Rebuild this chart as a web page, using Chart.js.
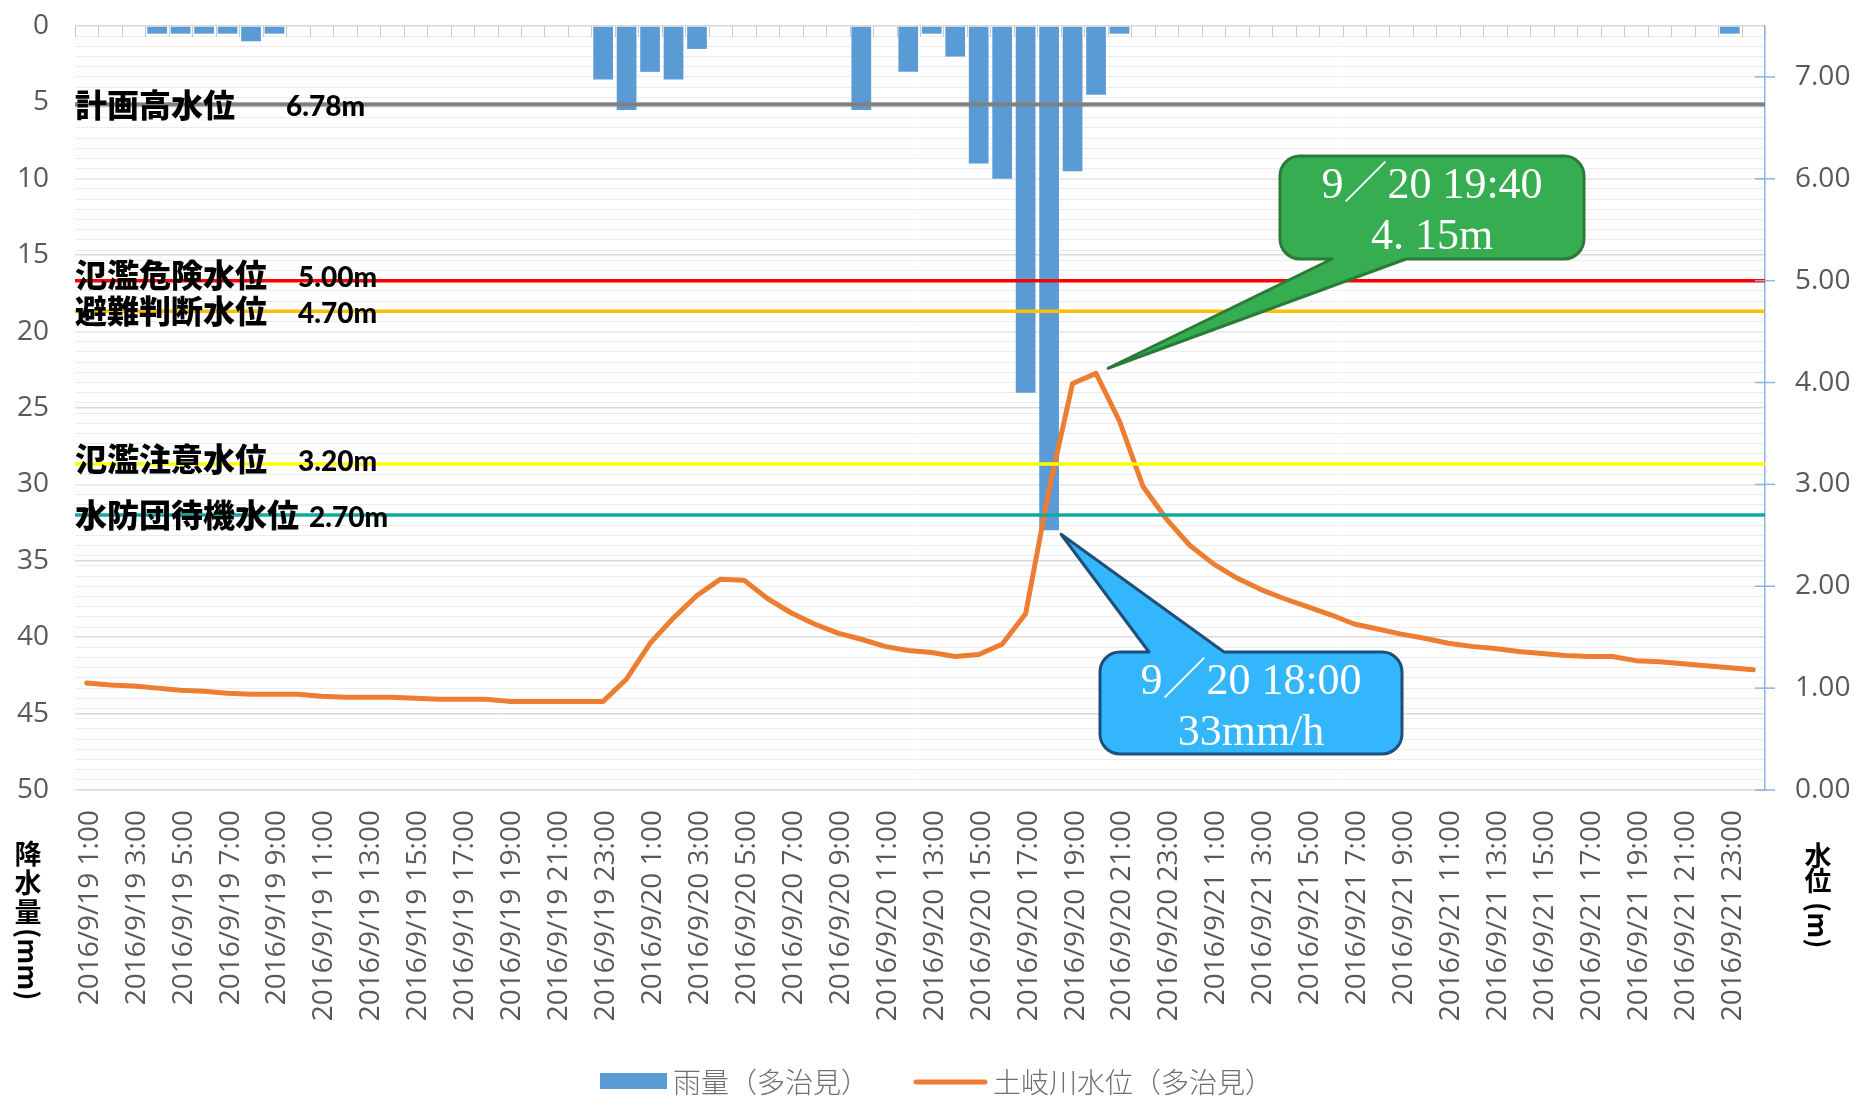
<!DOCTYPE html>
<html><head><meta charset="utf-8">
<script src="https://cdn.jsdelivr.net/npm/chart.js@4.4.1/dist/chart.umd.min.js"></script>
<style>html,body{margin:0;padding:0;background:#fff;}#wrap{width:1855px;height:1102px;}</style>
</head><body><div id="wrap"><canvas id="c" width="1855" height="1102"></canvas></div>
<script>
const categories = [
 '2016/9/19 1:00','2016/9/19 2:00','2016/9/19 3:00','2016/9/19 4:00','2016/9/19 5:00','2016/9/19 6:00',
 '2016/9/19 7:00','2016/9/19 8:00','2016/9/19 9:00','2016/9/19 10:00','2016/9/19 11:00','2016/9/19 12:00',
 '2016/9/19 13:00','2016/9/19 14:00','2016/9/19 15:00','2016/9/19 16:00','2016/9/19 17:00','2016/9/19 18:00',
 '2016/9/19 19:00','2016/9/19 20:00','2016/9/19 21:00','2016/9/19 22:00','2016/9/19 23:00','2016/9/20 0:00',
 '2016/9/20 1:00','2016/9/20 2:00','2016/9/20 3:00','2016/9/20 4:00','2016/9/20 5:00','2016/9/20 6:00',
 '2016/9/20 7:00','2016/9/20 8:00','2016/9/20 9:00','2016/9/20 10:00','2016/9/20 11:00','2016/9/20 12:00',
 '2016/9/20 13:00','2016/9/20 14:00','2016/9/20 15:00','2016/9/20 16:00','2016/9/20 17:00','2016/9/20 18:00',
 '2016/9/20 19:00','2016/9/20 20:00','2016/9/20 21:00','2016/9/20 22:00','2016/9/20 23:00','2016/9/21 0:00',
 '2016/9/21 1:00','2016/9/21 2:00','2016/9/21 3:00','2016/9/21 4:00','2016/9/21 5:00','2016/9/21 6:00',
 '2016/9/21 7:00','2016/9/21 8:00','2016/9/21 9:00','2016/9/21 10:00','2016/9/21 11:00','2016/9/21 12:00',
 '2016/9/21 13:00','2016/9/21 14:00','2016/9/21 15:00','2016/9/21 16:00','2016/9/21 17:00','2016/9/21 18:00',
 '2016/9/21 19:00','2016/9/21 20:00','2016/9/21 21:00','2016/9/21 22:00','2016/9/21 23:00','2016/9/22 0:00'
];
const rainfall = [
 0,0,0,0.5,0.5,0.5,0.5,1,0.5,0,0,0,
 0,0,0,0,0,0,0,0,0,0,3.5,5.5,
 3,3.5,1.5,0,0,0,0,0,0,5.5,0,3,
 0.5,2,9,10,24,33,9.5,4.5,0.5,0,0,0,
 0,0,0,0,0,0,0,0,0,0,0,0,
 0,0,0,0,0,0,0,0,0,0,0.5,0
];
const waterLevel = [
 1.05,1.03,1.02,1.00,0.98,0.97,0.95,0.94,0.94,0.94,0.92,0.91,
 0.91,0.91,0.90,0.89,0.89,0.89,0.87,0.87,0.87,0.87,0.87,1.09,
 1.44,1.69,1.91,2.07,2.06,1.88,1.74,1.63,1.54,1.48,1.41,1.37,
 1.35,1.31,1.33,1.43,1.73,2.95,3.99,4.09,3.62,2.98,2.66,2.40,
 2.22,2.08,1.97,1.88,1.80,1.72,1.63,1.58,1.53,1.49,1.44,1.41,
 1.39,1.36,1.34,1.32,1.31,1.31,1.27,1.26,1.24,1.22,1.20,1.18
];
const seriesNames = ['雨量（多治見）', '土岐川水位（多治見）'];
const refLevels = [6.73, 5.00, 4.70, 3.20, 2.70];
const refNames = ['計画高水位', '氾濫危険水位', '避難判断水位', '氾濫注意水位', '水防団待機水位'];
const refValueTexts = ['6.78m', '5.00m', '4.70m', '3.20m', '2.70m'];
const refColors = ['#808080', '#ff0000', '#ffc000', '#ffff00', '#14a89e'];
const leftTitleChars = ['降', '水', '量'];
const leftTitleUnit = '(mm)';
const rightTitleChars = ['水', '位'];
const rightTitleUnit = '(m)';
const callouts = [
  {lines: ['9／20 19:40', '4. 15m'], tipIndex: 43, tipValue: 4.15, axis: 'y1'},
  {lines: ['9／20 18:00', '33mm/h'], tipIndex: 41, tipValue: 33, axis: 'y'}
];

const GRAY = '#595959';

const decorPlugin = {
  id: 'decor',
  beforeDatasetsDraw(chart) {
    const {ctx, chartArea: a, scales: {x}} = chart;
    ctx.save();
    ctx.strokeStyle = '#c8c8c8';
    ctx.lineWidth = 1;
    const half = (x.getPixelForValue(1) - x.getPixelForValue(0)) / 2;
    for (let i = 0; i <= categories.length; i++) {
      const px = Math.round(x.getPixelForValue(i) - half) + 0.5;
      ctx.beginPath(); ctx.moveTo(px, a.top); ctx.lineTo(px, a.top + 11); ctx.stroke();
    }
    ctx.restore();
  },
  afterDatasetsDraw(chart) {
    const {ctx, chartArea: a, scales} = chart;
    const y1 = scales.y1;
    ctx.save();
    const widths = [4, 3.5, 3.5, 3.5, 3.5];
    refLevels.forEach((v, k) => {
      const py = y1.getPixelForValue(v);
      ctx.strokeStyle = refColors[k]; ctx.lineWidth = widths[k];
      ctx.beginPath(); ctx.moveTo(a.left, py); ctx.lineTo(a.right, py); ctx.stroke();
    });
    const dy = [0, -6, 0, -5, 0];
    const vx = [211, 223, 223, 223, 234];
    refLevels.forEach((v, k) => {
      const py = y1.getPixelForValue(v) + dy[k];
      ctx.fillStyle = '#000';
      ctx.textBaseline = 'middle'; ctx.textAlign = 'left';
      ctx.font = "900 32px 'Noto Sans CJK JP'";
      ctx.fillText(refNames[k], a.left, py);
      ctx.font = "900 28px Lato";
      ctx.fillText(refValueTexts[k], a.left + vx[k], py + 3);
    });
    const x = scales.x;
    const boxes = [
      {l: 1280, t: 156, r: 1584, b: 259, fill: '#35ad50', stroke: '#2a7a3a', tail: 'bottom', b1: 1332, b2: 1406,
       tx: x.getPixelForValue(callouts[0].tipIndex) + 12, ty: scales[callouts[0].axis].getPixelForValue(callouts[0].tipValue) + 1},
      {l: 1100, t: 652, r: 1402, b: 754, fill: '#34b6fd', stroke: '#1f4e79', tail: 'top', b1: 1149, b2: 1224,
       tx: x.getPixelForValue(callouts[1].tipIndex) + 12, ty: scales[callouts[1].axis].getPixelForValue(callouts[1].tipValue) + 4}
    ];
    boxes.forEach((bx, k) => {
      const R = 20;
      ctx.beginPath();
      ctx.moveTo(bx.l + R, bx.t);
      if (bx.tail === 'top') { ctx.lineTo(bx.b1, bx.t); ctx.lineTo(bx.tx, bx.ty); ctx.lineTo(bx.b2, bx.t); }
      ctx.arcTo(bx.r, bx.t, bx.r, bx.b, R);
      ctx.arcTo(bx.r, bx.b, bx.l, bx.b, R);
      if (bx.tail === 'bottom') { ctx.lineTo(bx.b2, bx.b); ctx.lineTo(bx.tx, bx.ty); ctx.lineTo(bx.b1, bx.b); }
      ctx.arcTo(bx.l, bx.b, bx.l, bx.t, R);
      ctx.arcTo(bx.l, bx.t, bx.r, bx.t, R);
      ctx.closePath();
      ctx.fillStyle = bx.fill; ctx.fill();
      ctx.strokeStyle = bx.stroke; ctx.lineWidth = 3; ctx.lineJoin = 'round'; ctx.stroke();
      ctx.fillStyle = '#fff'; ctx.textAlign = 'center'; ctx.textBaseline = 'alphabetic';
      ctx.font = "44px 'Liberation Serif', 'Noto Sans CJK JP'";
      const cx = (bx.l + bx.r) / 2;
      ctx.fillText(callouts[k].lines[0], cx, bx.t + 42);
      ctx.fillText(callouts[k].lines[1], cx, bx.t + 93);
    });
    ctx.restore();
  },
  afterDraw(chart) {
    const {ctx, chartArea: a, scales: {y1}} = chart;
    ctx.save();
    ctx.strokeStyle = '#8db3e2'; ctx.lineWidth = 1.5;
    for (let v = 0; v <= 7; v++) {
      const py = y1.getPixelForValue(v);
      ctx.beginPath(); ctx.moveTo(a.right - 10, py); ctx.lineTo(a.right + 10, py); ctx.stroke();
    }
    ctx.fillStyle = '#000'; ctx.textAlign = 'center'; ctx.textBaseline = 'middle';
    ctx.font = "bold 27px 'Noto Sans CJK JP'";
    const lx = 28;
    leftTitleChars.forEach((ch, i) => ctx.fillText(ch, lx, 854 + i * 29));
    ctx.save(); ctx.translate(lx, 928); ctx.rotate(Math.PI / 2);
    ctx.textAlign = 'left'; ctx.fillText(leftTitleUnit, 0, 0); ctx.restore();
    const rx = 1818;
    rightTitleChars.forEach((ch, i) => ctx.fillText(ch, rx, 856 + i * 25));
    ctx.save(); ctx.translate(rx, 902); ctx.rotate(Math.PI / 2);
    ctx.textAlign = 'left'; ctx.fillText(rightTitleUnit, 0, 0); ctx.restore();
    const ds = chart.data.datasets;
    ctx.fillStyle = ds[0].backgroundColor;
    ctx.fillRect(600, 1073, 67, 16);
    ctx.strokeStyle = ds[1].borderColor; ctx.lineWidth = 5; ctx.lineCap = 'round';
    ctx.beginPath(); ctx.moveTo(916, 1082); ctx.lineTo(985, 1082); ctx.stroke();
    ctx.fillStyle = '#6f6f6f'; ctx.textAlign = 'left';
    ctx.font = "300 28px 'Noto Sans CJK JP'";
    ctx.fillText(ds[0].label, 673, 1082);
    ctx.fillText(ds[1].label, 993, 1082);
    ctx.restore();
  }
};

const noPad = s => { s.paddingTop = 0; s.paddingBottom = 0; };

new Chart(document.getElementById('c'), {
  data: {
    labels: categories,
    datasets: [
      {type: 'bar', label: seriesNames[0], data: rainfall, yAxisID: 'y', backgroundColor: '#5b9bd5',
       barPercentage: 0.84, categoryPercentage: 1, order: 2},
      {type: 'line', label: seriesNames[1], data: waterLevel, yAxisID: 'y1', borderColor: '#ed7d31',
       backgroundColor: '#ed7d31', borderWidth: 5, pointRadius: 0, tension: 0, borderJoinStyle: 'round',
       borderCapStyle: 'round', order: 1}
    ]
  },
  options: {
    responsive: false, animation: false, devicePixelRatio: 1,
    layout: {padding: {top: 26, left: 0, right: 0, bottom: 0}},
    plugins: {legend: {display: false}, tooltip: {enabled: false}},
    scales: {
      x: {
        type: 'category', offset: true,
        grid: {display: false, drawTicks: false}, border: {display: false},
        ticks: {color: GRAY, font: {family: 'Open Sans', size: 28}, minRotation: 90, maxRotation: 90,
          autoSkip: false, padding: 20, labelOffset: 3,
          callback: function (v, i) { return i % 2 === 0 ? this.getLabelForValue(v) : ''; }},
        afterFit: s => { s.height = 312; s.paddingLeft = 0; s.paddingRight = 0; }
      },
      y: {
        position: 'left', reverse: true, min: 0, max: 50,
        grid: {color: '#d9d9d9', lineWidth: 1.5, drawTicks: false}, border: {display: false},
        ticks: {stepSize: 5, color: GRAY, font: {family: 'Open Sans', size: 28}, padding: 26},
        afterFit: s => { s.width = 75; noPad(s); }
      },
      y1: {
        position: 'right', min: 0, max: 7.5, z: -1,
        grid: {color: '#ececec', lineWidth: 1, drawTicks: false},
        border: {display: true, color: '#8db3e2', width: 1.5},
        ticks: {stepSize: 0.1, autoSkip: false, color: GRAY, font: {family: 'Open Sans', size: 28}, padding: 30,
          callback: v => Math.abs(v - Math.round(v)) < 1e-6 ? Math.round(v).toFixed(2) : ''},
        afterFit: s => { s.width = 90; noPad(s); }
      }
    }
  },
  plugins: [decorPlugin]
});
</script></body></html>
